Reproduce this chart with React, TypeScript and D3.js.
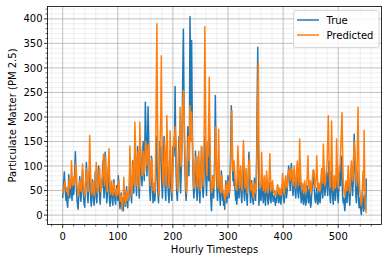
import React from "react";
import * as d3 from "d3";

// True PM2.5 values (hourly timesteps 0..551)
const trueValues: number[] = [
  36, 52, 70, 88, 60, 45, 30, 55, 25, 16, 40, 82, 64, 35, 50, 72, 48, 30, 58, 75, 42, 60, 95, 129,
  88, 55, 30, 20, 12, 35, 60, 78, 50, 28, 45, 70, 92, 60, 35, 22, 16, 48, 80, 107, 75, 40, 25, 55,
  85, 98, 60, 30, 18, 45, 72, 55, 30, 20, 48, 88, 62, 35, 25, 50, 78, 100, 65, 38, 22, 45, 70, 55,
  80, 110, 70, 35, 55, 128, 90, 48, 25, 40, 75, 98, 60, 30, 18, 42, 66, 50, 28, 20, 48, 72, 45, 30,
  22, 40, 60, 45, 30, 80, 50, 25, 13, 30, 45, 20, 12, 35, 9, 28, 50, 35, 18, 40, 58, 30, 15, 42,
  30, 55, 100, 70, 40, 25, 60, 110, 80, 45, 90, 150, 120, 70, 40, 85, 140, 100, 60, 35, 75, 140, 120, 80,
  60, 100, 150, 110, 70, 130, 230, 180, 120, 80, 150, 221, 160, 90, 50, 30, 70, 120, 90, 50, 25, 60, 40, 29,
  40, 90, 160, 120, 70, 40, 25, 80, 150, 110, 140, 95, 60, 35, 70, 120, 160, 100, 55, 30, 80, 140, 110, 60,
  40, 25, 60, 130, 90, 50, 30, 70, 140, 120, 120, 150, 262, 150, 80, 45, 30, 60, 110, 160, 120, 70, 45, 80,
  120, 200, 290, 379, 250, 150, 90, 50, 30, 60, 110, 180, 130, 80, 150, 405, 300, 200, 356, 220, 110, 60, 35, 50,
  80, 130, 90, 50, 30, 70, 120, 85, 45, 25, 60, 100, 140, 90, 50, 36, 60, 110, 160, 120, 70, 40, 80, 130,
  100, 70, 180, 120, 60, 30, 9, 40, 80, 60, 35, 70, 130, 244, 150, 90, 50, 30, 60, 100, 75, 40, 20, 50,
  90, 60, 30, 50, 20, 35, 12, 40, 70, 50, 25, 45, 80, 60, 35, 55, 90, 140, 223, 160, 110, 70, 90, 60,
  75, 45, 30, 50, 22, 40, 80, 60, 35, 55, 90, 70, 40, 25, 60, 100, 80, 45, 30, 55, 85, 60, 35, 20,
  60, 90, 128, 80, 45, 25, 40, 70, 50, 30, 22, 45, 75, 55, 30, 60, 120, 240, 342, 150, 20, 35, 55, 40,
  30, 50, 70, 45, 25, 40, 60, 35, 20, 45, 70, 55, 30, 22, 40, 65, 50, 30, 25, 45, 60, 40, 28, 35,
  40, 30, 20, 35, 26, 45, 60, 40, 25, 30, 50, 35, 22, 40, 55, 65, 45, 30, 25, 50, 70, 55, 35, 45,
  60, 80, 100, 94, 70, 50, 85, 105, 80, 55, 40, 65, 90, 70, 45, 35, 60, 85, 65, 45, 35, 55, 80, 60,
  40, 25, 35, 55, 40, 22, 30, 50, 35, 20, 28, 45, 60, 40, 25, 35, 55, 30, 16, 25, 45, 60, 75, 92,
  70, 45, 30, 25, 40, 55, 35, 22, 30, 50, 40, 25, 35, 60, 80, 55, 35, 70, 95, 60, 40, 55, 75, 88,
  60, 40, 75, 110, 70, 40, 25, 55, 90, 60, 35, 22, 45, 70, 50, 30, 55, 95, 65, 40, 25, 50, 80, 100,
  60, 90, 120, 80, 40, 25, 35, 20, 9, 30, 55, 40, 25, 50, 80, 60, 35, 20, 45, 75, 100, 70, 40, 60,
  110, 165, 120, 70, 40, 25, 55, 90, 60, 30, 15, 35, 20, 10, 1, 25, 50, 30, 8, 15, 40, 20, 10, 73,
];

// Predicted PM2.5 values
const predictedValues: number[] = [
  46, 50, 55, 62, 68, 60, 52, 48, 55, 45, 40, 58, 75, 66, 55, 70, 111, 80, 60, 66, 78, 62, 70, 98,
  105, 85, 60, 48, 40, 42, 55, 70, 66, 50, 48, 62, 104, 82, 58, 45, 38, 50, 72, 95, 90, 68, 48, 60,
  95, 162, 110, 70, 48, 42, 60, 68, 52, 40, 45, 70, 85, 107, 68, 45, 50, 65, 90, 96, 70, 48, 55, 66,
  72, 90, 124, 85, 60, 95, 118, 80, 55, 48, 70, 100, 135, 88, 55, 42, 58, 70, 52, 40, 50, 66, 58, 45,
  42, 38, 50, 55, 42, 60, 70, 48, 32, 28, 40, 30, 9, 25, 38, 77, 45, 28, 22, 35, 50, 45, 30, 38,
  45, 60, 141, 95, 55, 40, 50, 90, 110, 75, 60, 189, 150, 95, 60, 70, 120, 130, 85, 55, 189, 140, 110, 95,
  80, 90, 130, 120, 85, 100, 140, 150, 130, 100, 120, 140, 145, 120, 90, 60, 70, 110, 115, 80, 50, 55, 65, 45,
  60, 150, 280, 390, 200, 110, 60, 40, 90, 160, 200, 325, 180, 110, 70, 60, 110, 150, 120, 80, 60, 203, 150, 100,
  70, 55, 90, 172, 130, 80, 50, 45, 90, 130, 160, 140, 180, 160, 150, 90, 55, 50, 80, 130, 150, 220, 160, 100,
  130, 180, 220, 254, 230, 170, 120, 80, 50, 45, 80, 130, 160, 120, 110, 223, 190, 150, 210, 170, 120, 80, 55, 60,
  90, 110, 120, 90, 60, 55, 100, 130, 95, 60, 50, 80, 140, 120, 80, 60, 100, 200, 384, 250, 140, 90, 80, 150,
  120, 200, 281, 180, 110, 70, 45, 50, 70, 80, 60, 55, 90, 170, 180, 120, 80, 60, 55, 175, 110, 70, 50, 45,
  70, 80, 55, 45, 50, 40, 35, 30, 55, 65, 45, 40, 60, 70, 50, 45, 75, 110, 150, 213, 140, 90, 100, 110,
  90, 70, 55, 60, 50, 100, 141, 110, 70, 55, 80, 100, 75, 50, 60, 110, 152, 120, 80, 55, 70, 95, 70, 45,
  60, 75, 110, 115, 80, 55, 50, 65, 60, 45, 35, 45, 65, 60, 45, 55, 90, 180, 250, 311, 150, 70, 55, 60,
  60, 128, 90, 65, 50, 60, 80, 60, 45, 55, 90, 75, 55, 45, 60, 85, 125, 80, 55, 50, 65, 70, 55, 45,
  50, 45, 40, 48, 42, 50, 62, 55, 45, 42, 55, 50, 40, 45, 60, 85, 70, 50, 42, 55, 75, 80, 60, 55,
  65, 75, 90, 94, 85, 70, 80, 95, 90, 70, 60, 75, 100, 85, 65, 55, 70, 100, 110, 80, 60, 70, 155, 110,
  80, 60, 55, 65, 60, 45, 50, 70, 60, 45, 50, 65, 85, 121, 80, 55, 60, 70, 50, 45, 60, 75, 85, 90,
  90, 70, 55, 60, 80, 121, 85, 55, 50, 65, 60, 50, 55, 80, 95, 75, 65, 145, 110, 75, 60, 70, 85, 95,
  110, 150, 203, 130, 80, 60, 55, 110, 192, 120, 70, 50, 55, 80, 75, 55, 70, 155, 110, 70, 55, 80, 100, 90,
  120, 150, 180, 209, 130, 75, 55, 45, 40, 50, 70, 60, 50, 65, 100, 85, 55, 45, 60, 90, 110, 95, 70, 80,
  120, 150, 140, 110, 80, 60, 70, 150, 220, 140, 80, 50, 40, 30, 20, 30, 60, 90, 50, 173, 80, 20, 8, 5,
];

const seriesNames = ["True", "Predicted"];
const seriesColors = ["#1f77b4", "#ff7f0e"];
const xTickValues = [0, 100, 200, 300, 400, 500];
const yTickValues = [0, 50, 100, 150, 200, 250, 300, 350, 400];
const xLabel = "Hourly Timesteps";
const yLabel = "Particulate Matter (PM 2.5)";

const W = 389;
const H = 262;
const left = 47.5;
const right = 381.5;
const top = 6.5;
const bottom = 224.5;
const font = "DejaVu Sans, sans-serif";

export default function App() {
  const n = trueValues.length;
  const xMin = 0, xMax = n - 1;
  const xPad = 0.05 * (xMax - xMin);
  const all = trueValues.concat(predictedValues);
  const yMinD = d3.min(all) as number;
  const yMaxD = d3.max(all) as number;
  const yPad = 0.05 * (yMaxD - yMinD);

  const x = d3.scaleLinear().domain([xMin - xPad, xMax + xPad]).range([left, right]);
  const y = d3.scaleLinear().domain([yMinD - yPad, yMaxD + yPad]).range([bottom, top]);

  const xMinor = d3.range(-20, xMax + xPad, 20).filter((v) => v >= x.domain()[0] && v % 100 !== 0);
  const yMinor = d3.range(-10, yMaxD + yPad, 10).filter((v) => v >= y.domain()[0] && v % 50 !== 0);

  const line = d3
    .line<number>()
    .x((_, i) => x(i))
    .y((d) => y(d));

  const series = [trueValues, predictedValues];

  return (
    <svg
      width={W}
      height={H}
      style={{ position: "absolute", left: 0, top: 0, display: "block", background: "#fff" }}
      fontFamily={font}
    >
      <defs>
        <clipPath id="plot">
          <rect x={left} y={top} width={right - left} height={bottom - top} />
        </clipPath>
      </defs>
      <rect x={0} y={0} width={W} height={H} fill="#fff" />
      {/* minor grid */}
      {xMinor.map((v) => (
        <line key={"xm" + v} x1={x(v)} x2={x(v)} y1={top} y2={bottom} stroke="#e4e4e4" strokeWidth={0.6} />
      ))}
      {yMinor.map((v) => (
        <line key={"ym" + v} x1={left} x2={right} y1={y(v)} y2={y(v)} stroke="#e4e4e4" strokeWidth={0.6} />
      ))}
      {/* major grid */}
      {xTickValues.map((v) => (
        <line key={"xg" + v} x1={x(v)} x2={x(v)} y1={top} y2={bottom} stroke="#b0b0b0" strokeWidth={0.8} />
      ))}
      {yTickValues.map((v) => (
        <line key={"yg" + v} x1={left} x2={right} y1={y(v)} y2={y(v)} stroke="#b0b0b0" strokeWidth={0.8} />
      ))}
      {/* data */}
      <g clipPath="url(#plot)">
        {series.map((s, i) => (
          <path
            key={seriesNames[i]}
            d={line(s) || ""}
            fill="none"
            stroke={seriesColors[i]}
            strokeWidth={1.5}
            strokeLinejoin="round"
            strokeLinecap="square"
          />
        ))}
      </g>
      {/* spines */}
      <rect x={left} y={top} width={right - left} height={bottom - top} fill="none" stroke="#000" strokeWidth={0.8} />
      {/* x ticks */}
      {xTickValues.map((v) => (
        <g key={"xt" + v}>
          <line x1={x(v)} x2={x(v)} y1={bottom} y2={bottom + 3.5} stroke="#000" strokeWidth={0.8} />
          <text x={x(v)} y={240} fontSize={10} textAnchor="middle" fill="#000">
            {v}
          </text>
        </g>
      ))}
      {xMinor.map((v) => (
        <line key={"xmt" + v} x1={x(v)} x2={x(v)} y1={bottom} y2={bottom + 2} stroke="#000" strokeWidth={0.6} />
      ))}
      {/* y ticks */}
      {yTickValues.map((v) => (
        <g key={"yt" + v}>
          <line x1={left} x2={left - 3.5} y1={y(v)} y2={y(v)} stroke="#000" strokeWidth={0.8} />
          <text x={42.5} y={y(v) + 3.6} fontSize={10} textAnchor="end" fill="#000">
            {v}
          </text>
        </g>
      ))}
      {yMinor.map((v) => (
        <line key={"ymt" + v} x1={left} x2={left - 2} y1={y(v)} y2={y(v)} stroke="#000" strokeWidth={0.6} />
      ))}
      {/* axis labels */}
      <text x={(left + right) / 2} y={252.5} fontSize={10} textAnchor="middle" fill="#000">
        {xLabel}
      </text>
      <text
        transform={`translate(15.5, ${(top + bottom) / 2}) rotate(-90)`}
        fontSize={10}
        textAnchor="middle"
        fill="#000"
      >
        {yLabel}
      </text>
      {/* legend */}
      <rect x={293.5} y={10.5} width={85.5} height={37} rx={2.5} fill="#fff" fillOpacity={0.8} stroke="#cccccc" strokeWidth={0.8} />
      {seriesNames.map((name, i) => (
        <g key={"lg" + name}>
          <line x1={297} x2={319} y1={20 + i * 15} y2={20 + i * 15} stroke={seriesColors[i]} strokeWidth={1.5} />
          <text x={326.5} y={23.6 + i * 15} fontSize={10} fill="#000">
            {name}
          </text>
        </g>
      ))}
    </svg>
  );
}
